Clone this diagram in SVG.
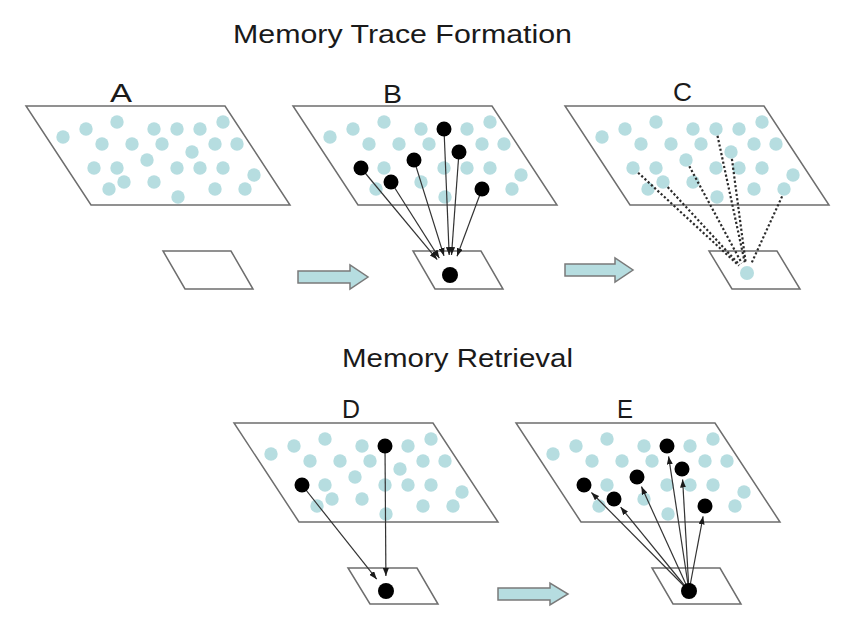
<svg xmlns="http://www.w3.org/2000/svg" xmlns:xlink="http://www.w3.org/1999/xlink" width="846" height="626" viewBox="0 0 846 626">
<style>
.plane{fill:#ffffff;stroke:#6e6e6e;stroke-width:1.5;stroke-linejoin:miter}
.d{fill:#b6dde0}
.k{fill:#000000}
.t{font-family:"Liberation Sans",Arial,sans-serif;fill:#1a1a1a}
.ln{stroke:#333333;stroke-width:1.2;fill:none}
.dot{stroke:#2a2a2a;stroke-width:2.2;stroke-dasharray:2.2,2.2;fill:none}
.blk{fill:#b6dde0;stroke:#7a7a7a;stroke-width:1.5}
</style>
<defs>
<marker id="ah" viewBox="0 0 8 6" refX="8" refY="3" markerWidth="8" markerHeight="6" markerUnits="userSpaceOnUse" orient="auto"><path d="M0,0 L8,3 L0,6 Z" fill="#1a1a1a"/></marker>
<path id="big" d="M0,0 H199 L264,99 H65 Z"/>
</defs>
<rect width="846" height="626" fill="#ffffff"/>

<g id="titles" class="t">
<text x="233" y="43" font-size="25" textLength="339" lengthAdjust="spacingAndGlyphs">Memory Trace Formation</text>
<text x="342" y="367" font-size="26" textLength="231" lengthAdjust="spacingAndGlyphs">Memory Retrieval</text>
<text x="110" y="102" font-size="26" textLength="22" lengthAdjust="spacingAndGlyphs">A</text>
<text x="383" y="103" font-size="26" textLength="19" lengthAdjust="spacingAndGlyphs">B</text>
<text x="673" y="101" font-size="26" textLength="19" lengthAdjust="spacingAndGlyphs">C</text>
<text x="342" y="418" font-size="26" textLength="18" lengthAdjust="spacingAndGlyphs">D</text>
<text x="617" y="418" font-size="26" textLength="16" lengthAdjust="spacingAndGlyphs">E</text>
</g>

<g id="panelA" transform="translate(26,106)">
<use xlink:href="#big" class="plane"/>
<g class="d">
<circle cx="37" cy="31" r="6.7"/><circle cx="60" cy="23" r="6.7"/><circle cx="91" cy="16" r="6.7"/><circle cx="128" cy="23" r="6.7"/><circle cx="151" cy="23" r="6.7"/><circle cx="174" cy="23" r="6.7"/><circle cx="197" cy="16" r="6.7"/>
<circle cx="76" cy="38" r="6.7"/><circle cx="106" cy="38" r="6.7"/><circle cx="136" cy="38" r="6.7"/><circle cx="166" cy="46" r="6.7"/><circle cx="189" cy="38" r="6.7"/><circle cx="211" cy="38" r="6.7"/>
<circle cx="121" cy="54" r="6.7"/><circle cx="68" cy="62" r="6.7"/><circle cx="91" cy="62" r="6.7"/><circle cx="151" cy="62" r="6.7"/><circle cx="174" cy="62" r="6.7"/><circle cx="197" cy="62" r="6.7"/><circle cx="228" cy="69" r="6.7"/>
<circle cx="98" cy="76" r="6.7"/><circle cx="128" cy="76" r="6.7"/><circle cx="83" cy="83" r="6.7"/><circle cx="189" cy="83" r="6.7"/><circle cx="219" cy="83" r="6.7"/><circle cx="152" cy="91" r="6.7"/>
</g>
</g>
<g id="smallA"><path class="plane" d="M163,251 H231 L253,289 H185 Z"/></g>

<g id="panelB" transform="translate(293,106)">
<use xlink:href="#big" class="plane"/>
<g class="d">
<circle cx="37" cy="31" r="6.7"/><circle cx="60" cy="23" r="6.7"/><circle cx="91" cy="16" r="6.7"/><circle cx="128" cy="23" r="6.7"/><circle cx="174" cy="23" r="6.7"/><circle cx="197" cy="16" r="6.7"/>
<circle cx="76" cy="38" r="6.7"/><circle cx="106" cy="38" r="6.7"/><circle cx="136" cy="38" r="6.7"/><circle cx="189" cy="38" r="6.7"/><circle cx="211" cy="38" r="6.7"/>
<circle cx="91" cy="62" r="6.7"/><circle cx="151" cy="62" r="6.7"/><circle cx="174" cy="62" r="6.7"/><circle cx="197" cy="62" r="6.7"/><circle cx="228" cy="69" r="6.7"/>
<circle cx="128" cy="76" r="6.7"/><circle cx="83" cy="83" r="6.7"/><circle cx="219" cy="83" r="6.7"/><circle cx="152" cy="91" r="6.7"/>
</g>
</g>
<g id="smallB"><path class="plane" d="M413,251 H481 L503,289 H435 Z"/></g>

<g id="panelC" transform="translate(565,106)">
<use xlink:href="#big" class="plane"/>
<g class="d">
<circle cx="37" cy="31" r="6.7"/><circle cx="60" cy="23" r="6.7"/><circle cx="91" cy="16" r="6.7"/><circle cx="128" cy="23" r="6.7"/><circle cx="151" cy="23" r="6.7"/><circle cx="174" cy="23" r="6.7"/><circle cx="197" cy="16" r="6.7"/>
<circle cx="76" cy="38" r="6.7"/><circle cx="106" cy="38" r="6.7"/><circle cx="136" cy="38" r="6.7"/><circle cx="166" cy="46" r="6.7"/><circle cx="189" cy="38" r="6.7"/><circle cx="211" cy="38" r="6.7"/>
<circle cx="121" cy="54" r="6.7"/><circle cx="68" cy="62" r="6.7"/><circle cx="91" cy="62" r="6.7"/><circle cx="151" cy="62" r="6.7"/><circle cx="174" cy="62" r="6.7"/><circle cx="197" cy="62" r="6.7"/><circle cx="228" cy="69" r="6.7"/>
<circle cx="98" cy="76" r="6.7"/><circle cx="128" cy="76" r="6.7"/><circle cx="83" cy="83" r="6.7"/><circle cx="189" cy="83" r="6.7"/><circle cx="219" cy="83" r="6.7"/><circle cx="152" cy="91" r="6.7"/>
</g>
</g>
<g id="smallC"><path class="plane" d="M709,251 H777 L800,289 H732 Z"/><circle class="d" cx="747" cy="273" r="7"/></g>

<g id="panelD" transform="translate(234,423)">
<use xlink:href="#big" class="plane"/>
<g class="d">
<circle cx="37" cy="31" r="6.7"/><circle cx="60" cy="23" r="6.7"/><circle cx="91" cy="16" r="6.7"/><circle cx="128" cy="23" r="6.7"/><circle cx="174" cy="23" r="6.7"/><circle cx="197" cy="16" r="6.7"/>
<circle cx="76" cy="38" r="6.7"/><circle cx="106" cy="38" r="6.7"/><circle cx="136" cy="38" r="6.7"/><circle cx="166" cy="46" r="6.7"/><circle cx="189" cy="38" r="6.7"/><circle cx="211" cy="38" r="6.7"/>
<circle cx="121" cy="54" r="6.7"/><circle cx="91" cy="62" r="6.7"/><circle cx="151" cy="62" r="6.7"/><circle cx="174" cy="62" r="6.7"/><circle cx="197" cy="62" r="6.7"/><circle cx="228" cy="69" r="6.7"/>
<circle cx="98" cy="76" r="6.7"/><circle cx="128" cy="76" r="6.7"/><circle cx="83" cy="83" r="6.7"/><circle cx="189" cy="83" r="6.7"/><circle cx="219" cy="83" r="6.7"/><circle cx="152" cy="91" r="6.7"/>
</g>
</g>
<g id="smallD"><path class="plane" d="M348,568 H417 L438,604 H370 Z"/></g>

<g id="panelE" transform="translate(516,423)">
<use xlink:href="#big" class="plane"/>
<g class="d">
<circle cx="37" cy="31" r="6.7"/><circle cx="60" cy="23" r="6.7"/><circle cx="91" cy="16" r="6.7"/><circle cx="128" cy="23" r="6.7"/><circle cx="174" cy="23" r="6.7"/><circle cx="197" cy="16" r="6.7"/>
<circle cx="76" cy="38" r="6.7"/><circle cx="106" cy="38" r="6.7"/><circle cx="136" cy="38" r="6.7"/><circle cx="189" cy="38" r="6.7"/><circle cx="211" cy="38" r="6.7"/>
<circle cx="91" cy="62" r="6.7"/><circle cx="151" cy="62" r="6.7"/><circle cx="174" cy="62" r="6.7"/><circle cx="197" cy="62" r="6.7"/><circle cx="228" cy="69" r="6.7"/>
<circle cx="128" cy="76" r="6.7"/><circle cx="83" cy="83" r="6.7"/><circle cx="219" cy="83" r="6.7"/><circle cx="152" cy="91" r="6.7"/>
</g>
</g>
<g id="smallE"><path class="plane" d="M652,568 H720 L741,604 H673 Z"/></g>

<g id="connectors">
<g id="stepArrows" class="blk">
<path d="M298,271 H350 V265 L368,277 L350,289 V283 H298 Z"/>
<path d="M565,264 H615 V258 L633,270 L615,282 V276 H565 Z"/>
<path d="M498,588 H550 V583 L568,594 L550,605 V600 H498 Z"/>
</g>
<g id="linksB" class="ln" marker-end="url(#ah)">
<line x1="444" y1="129" x2="449.2" y2="255"/>
<line x1="459" y1="152" x2="451.5" y2="255"/>
<line x1="414" y1="160" x2="444" y2="255.9"/>
<line x1="361" y1="168" x2="437.2" y2="259.6"/>
<line x1="391" y1="182" x2="439.3" y2="258.1"/>
<line x1="482" y1="189" x2="457" y2="256.3"/>
</g>
<g id="linksC" class="dot">
<line x1="717.5" y1="135.8" x2="744.7" y2="262.2"/>
<line x1="731.9" y1="158.9" x2="745.6" y2="262.1"/>
<line x1="689.3" y1="166.2" x2="741.8" y2="263.3"/>
<line x1="638.1" y1="172.7" x2="738.9" y2="265.6"/>
<line x1="667.7" y1="187.1" x2="739.5" y2="264.9"/>
<line x1="782.1" y1="196.4" x2="751.6" y2="263"/>
</g>
<g id="linksD" class="ln" marker-end="url(#ah)">
<line x1="385" y1="446" x2="385.9" y2="576"/>
<line x1="302" y1="485" x2="376.7" y2="579.2"/>
</g>
<g id="linksE" class="ln" marker-end="url(#ah)">
<line x1="689" y1="591" x2="668.6" y2="456.4"/>
<line x1="689" y1="591" x2="682.6" y2="479.5"/>
<line x1="689" y1="591" x2="641.4" y2="486.6"/>
<line x1="689" y1="591" x2="591.4" y2="492.5"/>
<line x1="689" y1="591" x2="620.6" y2="507.1"/>
<line x1="689" y1="591" x2="703.1" y2="516.3"/>
</g>
</g>

<g id="cellsB" class="k">
<circle cx="444" cy="129" r="7.5"/><circle cx="459" cy="152" r="7.5"/><circle cx="414" cy="160" r="7.5"/><circle cx="361" cy="168" r="7.5"/><circle cx="391" cy="182" r="7.5"/><circle cx="482" cy="189" r="7.5"/>
</g>
<g id="traceB" class="k"><circle cx="450" cy="275" r="8"/></g>
<g id="cellsD" class="k">
<circle cx="385" cy="446" r="7.5"/><circle cx="302" cy="485" r="7.5"/>
</g>
<g id="traceD" class="k"><circle cx="386" cy="591" r="8"/></g>
<g id="cellsE" class="k">
<circle cx="667" cy="446" r="7.5"/><circle cx="682" cy="469" r="7.5"/><circle cx="637" cy="477" r="7.5"/><circle cx="584" cy="485" r="7.5"/><circle cx="614" cy="499" r="7.5"/><circle cx="705" cy="506" r="7.5"/>
</g>
<g id="traceE" class="k"><circle cx="689" cy="591" r="8"/></g>
</svg>
